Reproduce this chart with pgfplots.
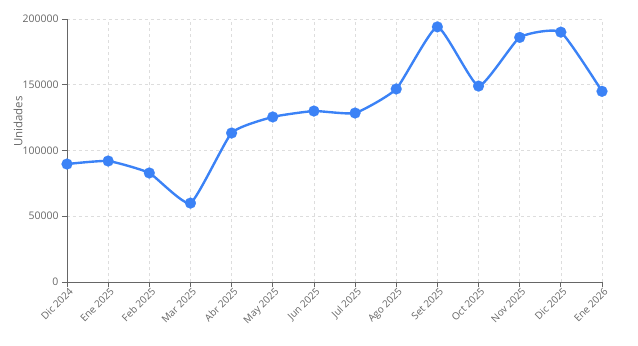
\documentclass[border=0pt]{standalone}
\usepackage{pgfplots}
\pgfplotsset{compat=1.18}
\usepackage{fontspec}
\setmainfont{Open Sans}
\definecolor{lineblue}{HTML}{3B82F6}
\definecolor{axgray}{HTML}{666666}
\definecolor{gridgray}{HTML}{DDDDDD}
\begin{document}
\begin{tikzpicture}
\useasboundingbox (-67bp,-64bp) rectangle (571bp,282bp);
\begin{axis}[
  at={(0,0)}, anchor=south west,
  scale only axis, width=535bp, height=263bp,
  xmin=0, xmax=13, ymin=0, ymax=200000,
  axis x line*=bottom, axis y line*=left,
  axis line style={axgray, line width=1pt, -},
  xtick={0,...,13},
  xticklabels={Dic 2024,Ene 2025,Feb 2025,Mar 2025,Abr 2025,May 2025,Jun 2025,Jul 2025,Ago 2025,Set 2025,Oct 2025,Nov 2025,Dic 2025,Ene 2026},
  x tick label style={rotate=45, anchor=north east, font=\fontsize{10}{12}\selectfont, text=axgray, inner sep=1pt, xshift=2bp},
  ytick={0,50000,100000,150000,200000},
  scaled y ticks=false,
  yticklabel style={/pgf/number format/fixed, /pgf/number format/1000 sep={}, font=\fontsize{10.5}{12}\selectfont, text=axgray},
  /pgf/number format/assume math mode=true,
  tick align=outside, major tick length=5bp,
  tick style={axgray, line width=0.8pt},
  grid=major, grid style={gridgray, dashed, line width=0.6pt},
  ylabel={Unidades}, ylabel style={font=\fontsize{11.5}{13}\selectfont, text=axgray, at={(axis description cs:-0.0916,0.61)}, anchor=center},
  clip=false,
]
\addplot[lineblue, line width=2.4pt, smooth, tension=0.28, no markers]
coordinates {
(0,89700) (1,92000) (2,82900) (3,60000) (4,113300) (5,125500) (6,130000) (7,128500) (8,146800) (9,194000) (10,149000) (11,186000) (12,190000) (13,145000)
};
\addplot[lineblue, only marks, mark=*, mark size=5.5bp, mark options={fill=lineblue, draw=lineblue, line width=0.1pt}]
coordinates {
(0,89700) (1,92000) (2,82900) (3,60000) (4,113300) (5,125500) (6,130000) (7,128500) (8,146800) (9,194000) (10,149000) (11,186000) (12,190000) (13,145000)
};
\end{axis}
\end{tikzpicture}
\end{document}
